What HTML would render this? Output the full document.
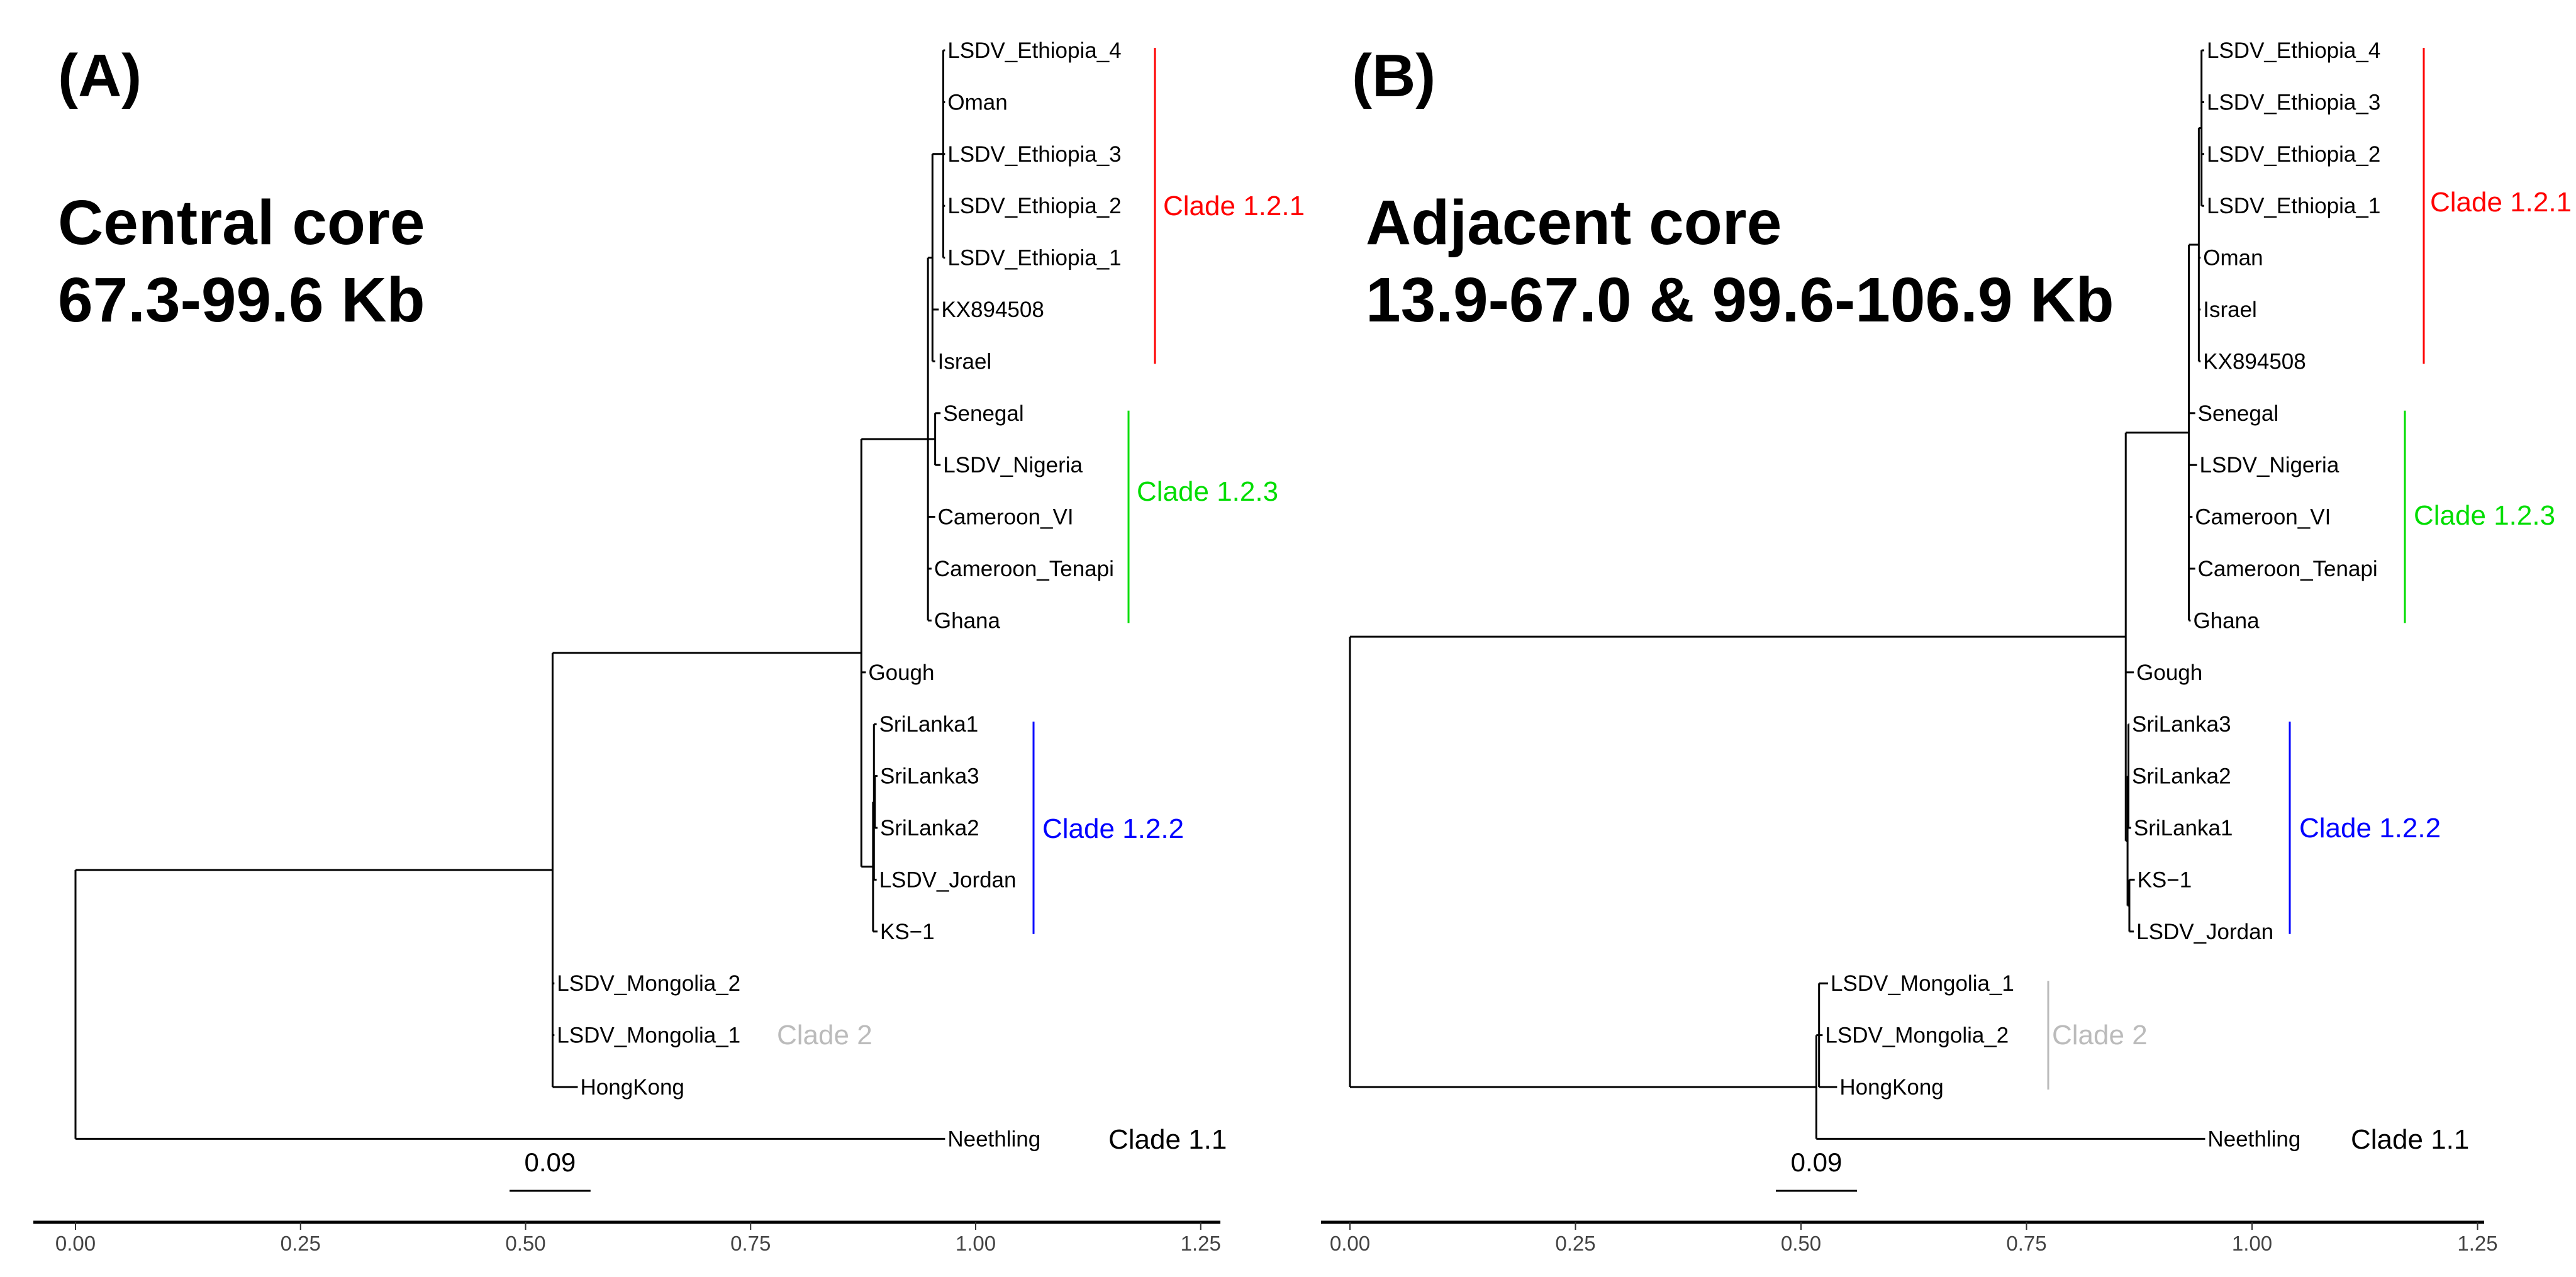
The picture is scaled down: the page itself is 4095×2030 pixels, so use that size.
<!DOCTYPE html>
<html><head><meta charset="utf-8">
<style>
html,body{margin:0;padding:0;background:#fff;}
svg{display:block;}
text{font-family:"Liberation Sans",Arial,sans-serif;}
</style></head>
<body>
<svg id="fig" width="4095" height="2030" viewBox="0 0 4095 2030" xmlns="http://www.w3.org/2000/svg">
  <rect width="4095" height="2030" fill="#fff"/>
  <g font-weight="bold" fill="#000">
    <text x="92" y="153" font-size="96">(A)</text>
    <text x="92" y="388" font-size="100">Central core</text>
    <text x="92" y="511" font-size="100">67.3-99.6 Kb</text>
  </g>
  <g font-weight="bold" fill="#000">
    <text x="2149" y="153" font-size="96">(B)</text>
    <text x="2171" y="388" font-size="100">Adjacent core</text>
    <text x="2171" y="511" font-size="100">13.9-67.0 &amp; 99.6-106.9 Kb</text>
  </g>
  <g id="treeA"></g>
  <g id="treeB"></g>
</svg>
<script>
// ---- shared layout data ----
const tickValues = [0, 0.25, 0.5, 0.75, 1.0, 1.25];
const tickLabels = ["0.00", "0.25", "0.50", "0.75", "1.00", "1.25"];
const scaleBarValue = 0.09;

// ---- Panel A data ----
const leavesA = ["LSDV_Ethiopia_4","Oman","LSDV_Ethiopia_3","LSDV_Ethiopia_2","LSDV_Ethiopia_1","KX894508","Israel","Senegal","LSDV_Nigeria","Cameroon_VI","Cameroon_Tenapi","Ghana","Gough","SriLanka1","SriLanka3","SriLanka2","LSDV_Jordan","KS\u22121","LSDV_Mongolia_2","LSDV_Mongolia_1","HongKong","Neethling"];
const tipDepthA = [0.966,0.966,0.966,0.966,0.966,0.959,0.955,0.961,0.961,0.955,0.951,0.951,0.878,0.890,0.891,0.891,0.890,0.891,0.532,0.532,0.558,0.966];
const nodeDepthA = [0.964,0.952,0.955,0.947,0.888,0.887,0.886,0.873,0.530,0];
const nodeChildrenA = [[0,1,2,3,4],[22,5,6],[7,8],[23,24,9,10,11],[14,15],[13,26,16],[27,17],[25,12,28],[29,18,19,20],[30,21]];

// ---- Panel B data ----
const leavesB = ["LSDV_Ethiopia_4","LSDV_Ethiopia_3","LSDV_Ethiopia_2","LSDV_Ethiopia_1","Oman","Israel","KX894508","Senegal","LSDV_Nigeria","Cameroon_VI","Cameroon_Tenapi","Ghana","Gough","SriLanka3","SriLanka2","SriLanka1","KS\u22121","LSDV_Jordan","LSDV_Mongolia_1","LSDV_Mongolia_2","HongKong","Neethling"];
const tipDepthB = [0.947,0.947,0.947,0.947,0.943,0.943,0.943,0.937,0.939,0.934,0.937,0.932,0.869,0.864,0.864,0.866,0.870,0.869,0.530,0.524,0.540,0.948];
const nodeDepthB = [0.944,0.941,0.930,0.864,0.863,0.862,0.860,0.520,0.517,0];
const nodeChildrenB = [[0,1,2,3],[22,4,5,6],[23,7,8,9,10,11],[16,17],[13,14,15],[26,25],[24,12,27],[18,19,20],[29,21],[28,30]];

// clades: label, color, barX(px), barFrom row, barTo row, labelX, labelY
const cladesA = [
  ["Clade 1.2.1","#ff0000",1836,0,6,1849,327],
  ["Clade 1.2.3","#00dd00",1794,7,11,1807,781],
  ["Clade 1.2.2","#0000ff",1643,13,17,1657,1317],
  ["Clade 2","#bbbbbb",null,18,20,1235,1645],
  ["Clade 1.1","#000000",null,21,21,1762,1811]
];
const cladesB = [
  ["Clade 1.2.1","#ff0000",3853,0,6,3863,321],
  ["Clade 1.2.3","#00dd00",3823,7,11,3837,819],
  ["Clade 1.2.2","#0000ff",3640,13,17,3655,1316],
  ["Clade 2","#bbbbbb",3256,18,20,3262,1645],
  ["Clade 1.1","#000000",null,21,21,3737,1811]
];

const NS = "http://www.w3.org/2000/svg";
const rowY = i => 80 + i * 82.4;

function mk(parent, tag, attrs) {
  const e = document.createElementNS(NS, tag);
  for (const k in attrs) e.setAttribute(k, attrs[k]);
  parent.appendChild(e);
  return e;
}

function drawPanel(g, key, leaves, tipDepth, nodeDepth, nodeChildren, clades, x0, unit, axisL, axisR, scaleX) {
  const sx = v => x0 + v * unit;
  const n = leaves.length;
  const X = [], Y = [];
  leaves.forEach((nm, i) => { X[i] = sx(tipDepth[i]); Y[i] = rowY(i); });
  nodeChildren.forEach((ch, j) => {
    const id = n + j;
    X[id] = sx(nodeDepth[j]);
    Y[id] = (Y[ch[0]] + Y[ch[ch.length - 1]]) / 2;
  });
  nodeChildren.forEach((ch, j) => {
    const id = n + j;
    const ys = ch.map(c => Y[c]);
    const v = mk(g, "line", {x1: X[id], x2: X[id], y1: Math.min(...ys), y2: Math.max(...ys), stroke: "#000", "stroke-width": 3});
    
    
    ch.forEach(c => {
      const h = mk(g, "line", {x1: X[id], x2: X[c], y1: Y[c], y2: Y[c], stroke: "#000", "stroke-width": 3});
      
      
    });
  });
  leaves.forEach((nm, i) => {
    const t = mk(g, "text", {x: X[i] + 4, y: Y[i] + 12, "font-size": 35, fill: "#000"});
    t.textContent = nm;
    
    
  });
  clades.forEach(c => {
    if (c[2] !== null) {
      const b = mk(g, "line", {x1: c[2], x2: c[2], y1: rowY(c[3]) - 4, y2: rowY(c[4]) + 4, stroke: c[1], "stroke-width": 3});
      
      
    }
    const t = mk(g, "text", {x: c[5], y: c[6] + 15, "font-size": 44, fill: c[1]});
    t.textContent = c[0];
    
    
  });
  const sl = mk(g, "line", {x1: scaleX, x2: scaleX + scaleBarValue * unit, y1: 1893, y2: 1893, stroke: "#000", "stroke-width": 3});
  
  
  const st = mk(g, "text", {x: scaleX + scaleBarValue * unit / 2, y: 1862, "font-size": 42, "text-anchor": "middle", fill: "#000"});
  st.textContent = scaleBarValue.toFixed(2);
  
  
  const ax = mk(g, "line", {x1: axisL, x2: axisR, y1: 1943, y2: 1943, stroke: "#000", "stroke-width": 5});
  
  
  tickValues.forEach((v, i) => {
    const tk = mk(g, "line", {x1: sx(v), x2: sx(v), y1: 1943, y2: 1955, stroke: "#333", "stroke-width": 2});
    
    
    const tl = mk(g, "text", {x: sx(v), y: 1988, "font-size": 33, "text-anchor": "middle", fill: "#444"});
    tl.textContent = tickLabels[i];
    
    
  });
}

drawPanel(document.getElementById("treeA"), "panel-a", leavesA, tipDepthA, nodeDepthA, nodeChildrenA, cladesA, 120, 1431, 53, 1940, 810);
drawPanel(document.getElementById("treeB"), "panel-b", leavesB, tipDepthB, nodeDepthB, nodeChildrenB, cladesB, 2146, 1434, 2100, 3949, 2823);
</script>
</body></html>
